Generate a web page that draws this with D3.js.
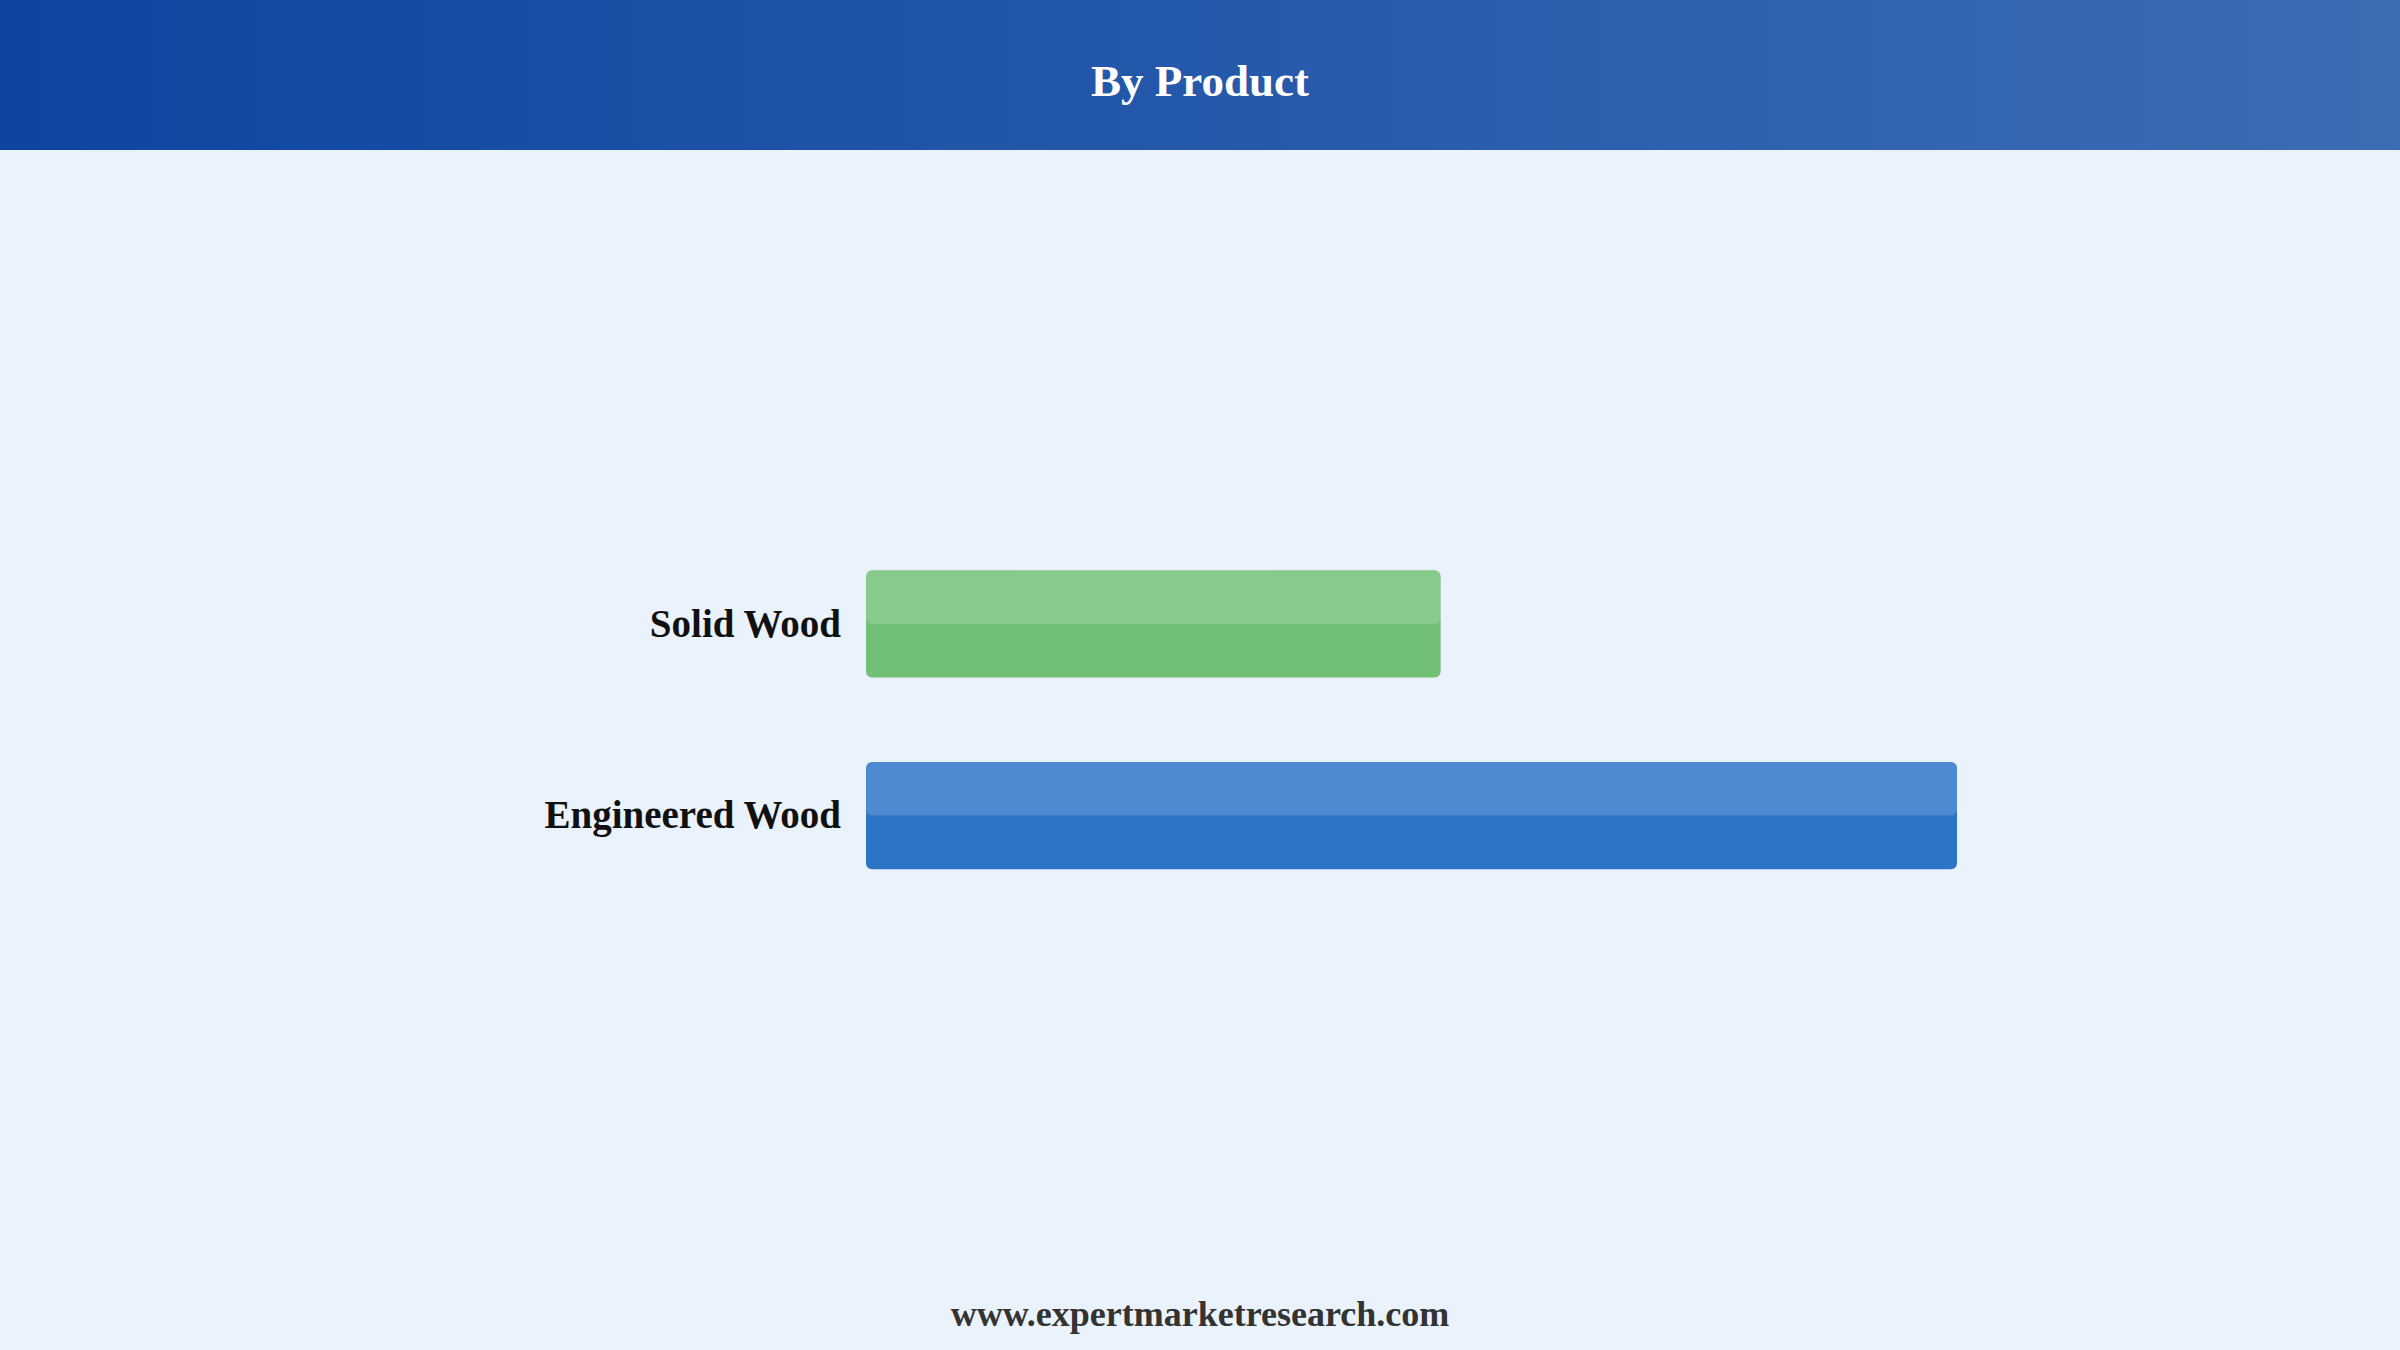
<!DOCTYPE html>
<html>
<head>
<meta charset="utf-8">
<title>By Product</title>
<style>
  html, body { margin: 0; padding: 0; background: #eaf2fc; }
  svg { display: block; }
</style>
</head>
<body>
<script src="https://d3js.org/d3.v7.min.js"></script>
<script>
// data
var categories = ["Solid Wood", "Engineered Wood"];
var shares = [34.5, 65.5];
var barColors = ["#72bf76", "#2b74c6"];
var title = "By Product";
var source = "www.expertmarketresearch.com";

var width = 2400, height = 1350;
var headerH = 150;

var svg = d3.select("body").append("svg")
    .attr("width", width)
    .attr("height", height);

var defs = svg.append("defs");
var grad = defs.append("linearGradient")
    .attr("id", "hdr")
    .attr("x1", "0%").attr("x2", "100%")
    .attr("y1", "0%").attr("y2", "0%");
grad.append("stop").attr("offset", "0%").attr("stop-color", "#0d45a1");
grad.append("stop").attr("offset", "100%").attr("stop-color", "#3d6cb3");

// background + header
svg.append("rect").attr("width", width).attr("height", height).attr("fill", "#eaf2fc");
svg.append("rect").attr("width", width).attr("height", headerH).attr("fill", "url(#hdr)");

svg.append("text")
    .attr("x", width / 2)
    .attr("y", 96)
    .attr("text-anchor", "middle")
    .attr("font-family", "'Liberation Serif', 'Times New Roman', serif")
    .attr("font-weight", "bold")
    .attr("font-size", 45)
    .attr("fill", "#ffffff")
    .text(title);

// scales
var xScale = d3.scaleLinear()
    .domain([0, d3.max(shares)])
    .range([866, 1957]);

var yScale = d3.scaleBand()
    .domain(categories)
    .range([486, 953.5])
    .padding(0.44);

var rows = svg.selectAll("g.row")
    .data(categories)
    .enter()
    .append("g")
    .attr("class", "row");

// main bar
rows.append("rect")
    .attr("x", xScale(0))
    .attr("y", function(d){ return yScale(d); })
    .attr("width", function(d, i){ return xScale(shares[i]) - xScale(0); })
    .attr("height", yScale.bandwidth())
    .attr("rx", 6)
    .attr("fill", function(d, i){ return barColors[i]; });

// top highlight
rows.append("rect")
    .attr("x", xScale(0))
    .attr("y", function(d){ return yScale(d); })
    .attr("width", function(d, i){ return xScale(shares[i]) - xScale(0); })
    .attr("height", yScale.bandwidth() / 2)
    .attr("rx", 6)
    .attr("fill", "#ffffff")
    .attr("fill-opacity", 0.16);

// category labels
rows.append("text")
    .attr("x", xScale(0) - 25)
    .attr("y", function(d){ return yScale(d) + yScale.bandwidth() / 2; })
    .attr("dy", "0.33em")
    .attr("text-anchor", "end")
    .attr("font-family", "'Liberation Serif', 'Times New Roman', serif")
    .attr("font-weight", "bold")
    .attr("font-size", 39)
    .attr("fill", "#111111")
    .text(function(d){ return d; });

// footer
svg.append("text")
    .attr("x", width / 2)
    .attr("y", 1326)
    .attr("text-anchor", "middle")
    .attr("font-family", "'Liberation Serif', 'Times New Roman', serif")
    .attr("font-weight", "bold")
    .attr("font-size", 36)
    .attr("fill", "#333333")
    .text(source);
</script>
</body>
</html>
